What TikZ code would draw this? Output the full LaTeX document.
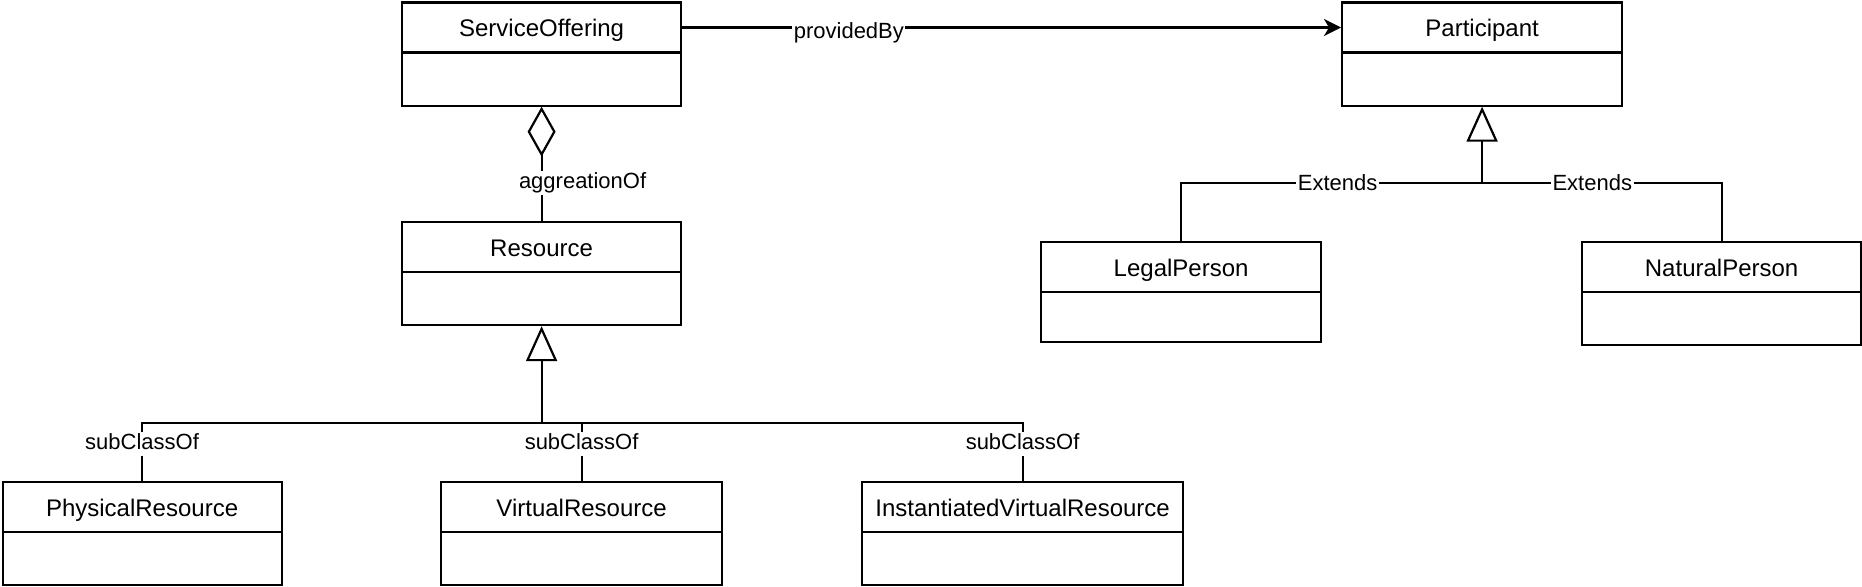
\documentclass[tikz,border=0pt]{standalone}
\usepackage{fontspec}
\setmainfont{Liberation Sans}
\usetikzlibrary{arrows.meta,calc}
\tikzset{
  umlbox/.style={draw, line width=2.2pt, inner sep=0pt, anchor=north west},
  ttl/.style={font=\fontsize{24}{28}\selectfont, inner sep=0pt, text height=20pt, text depth=0pt},
  lbl/.style={font=\fontsize{22}{26}\selectfont, fill=white, inner sep=1.5pt, text height=16pt, text depth=5pt},
  conn/.style={line width=2.2pt},
  assoc/.style={conn, -{Stealth[length=17pt, width=17pt, inset=5pt]}},
  aggr/.style={conn, -{Diamond[open, length=50pt, width=28pt]}},
  inh/.style={conn, -{Triangle[open, length=35pt, width=31pt]}},
}
\newcommand{\umlclass}[6]{%
  \node[umlbox, minimum width=#4pt, minimum height=#5pt] (#1) at (#2,#3) {};
  \draw[conn] ([yshift=-51pt]#1.north west) -- ([yshift=-51pt]#1.north east);
  \node[ttl] (#1t) at ([yshift=-25pt]#1.north) {#6};
}
\begin{document}
\begin{tikzpicture}[x=1pt,y=-1pt]
\useasboundingbox (0,0) rectangle (1862,586);
\umlclass{so}{401}{1.5}{279}{103}{ServiceOffering}
\umlclass{pa}{1341}{1.5}{280}{103}{Participant}
\umlclass{res}{401}{221}{279}{103}{Resource}
\umlclass{phys}{1.5}{481}{279}{103}{PhysicalResource}
\umlclass{virt}{440}{481}{281}{103}{VirtualResource}
\umlclass{inst}{861}{481}{321}{103}{InstantiatedVirtualResource}
\umlclass{lp}{1040}{241}{280}{100}{LegalPerson}
\umlclass{np}{1581}{241}{279}{103}{NaturalPerson}

\draw[assoc] ([yshift=-26pt]so.north east) -- ([yshift=-26pt]pa.north west) node[pos=0.253, yshift=-5pt, lbl]{providedBy};
\draw[aggr] (res.north) -- (so.south) node[pos=0.35, xshift=41pt, yshift=-2pt, lbl]{aggreationOf};

\coordinate (rj) at ([yshift=-97pt]res.south);
\draw[inh] (rj) -- (res.south);
\draw[conn] (phys.north) |- (rj) node[pos=0.32, lbl]{subClassOf};
\draw[conn] (virt.north) |- (rj) node[pos=0.32, lbl]{subClassOf};
\draw[conn] (inst.north) |- (rj) node[pos=0.32, lbl]{subClassOf};

\coordinate (pj) at ([yshift=-76pt]pa.south);
\draw[inh] (pj) -- (pa.south);
\draw[conn] (lp.north) |- (pj) node[pos=0.76, yshift=-2pt, lbl]{Extends};
\draw[conn] (np.north) |- (pj) node[pos=0.77, yshift=-2pt, lbl]{Extends};
\end{tikzpicture}
\end{document}
